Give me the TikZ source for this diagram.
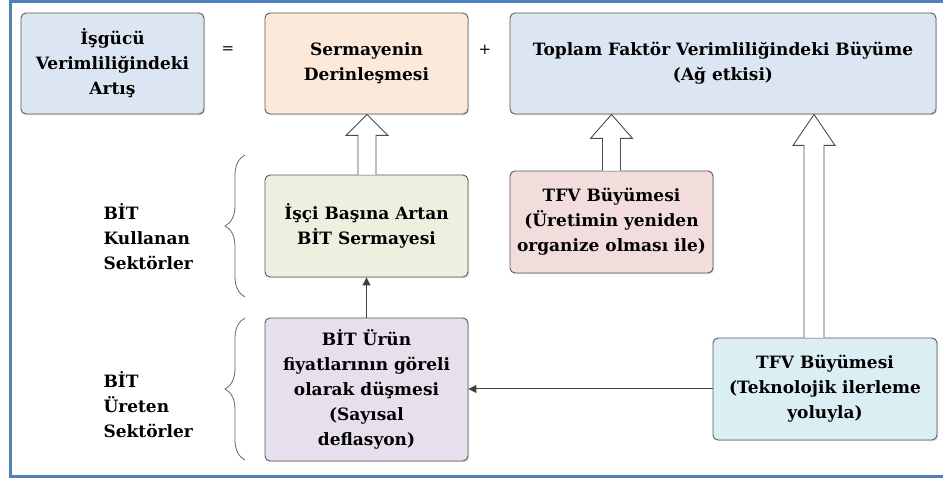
\documentclass[tikz,border=0pt]{standalone}
\usepackage{fontspec}
\setmainfont{DejaVu Serif}
\usetikzlibrary{calc,arrows.meta,decorations.pathreplacing,shadows}
\definecolor{frameblue}{RGB}{79,129,189}
\definecolor{boxblue}{RGB}{220,230,242}
\definecolor{boxpeach}{RGB}{253,233,217}
\definecolor{boxgreen}{RGB}{235,241,222}
\definecolor{boxpink}{RGB}{242,221,220}
\definecolor{boxlilac}{RGB}{229,224,236}
\definecolor{boxcyan}{RGB}{218,238,243}
\tikzset{
  box/.style={draw=black!65, line width=0.9pt, rounded corners=5pt, align=center, inner sep=0pt,
    font=\fontsize{17}{25}\selectfont\bfseries,
    drop shadow={opacity=0.25, shadow xshift=1.2pt, shadow yshift=-1.2pt}},
  sidelbl/.style={anchor=west, align=left, font=\fontsize{17}{25}\selectfont\bfseries},
  opsign/.style={font=\fontsize{15}{15}\selectfont},
  hollow/.style={draw=black!70, fill=white, line width=0.9pt},
  thinarr/.style={draw=black!75, line width=1pt, -{Triangle[length=8pt,width=8pt]}},
  brc/.style={draw=black!60, line width=0.8pt, decorate, decoration={brace, amplitude=20pt}}
}
\newcommand\hollowarrow[5]{%
\draw[hollow] let \p1=(#1.north), \p2=(#2.south) in
 ({(#3-#4)*1pt},\y1) -- ({(#3-#4)*1pt},{\y2-#5pt}) -- ({(#3-21)*1pt},{\y2-#5pt})
 -- ({#3*1pt},\y2) -- ({(#3+21)*1pt},{\y2-#5pt}) -- ({(#3+#4)*1pt},{\y2-#5pt}) -- ({(#3+#4)*1pt},\y1);
}
\begin{document}
\begin{tikzpicture}[x=1pt,y=-1pt]
\useasboundingbox (0,0) rectangle (943,478);
\draw[frameblue, line width=3pt] (945,1.5)--(10,1.5)--(10,476)--(945,476);
\node (isgucu) at (112.5,63.5)[box, fill=boxblue, minimum width=183pt, minimum height=101pt]{İşgücü\\Verimliliğindeki\\Artış};
\node (esit) at (228,50)[opsign]{=};
\node (derin) at (366.5,63.5)[box, fill=boxpeach, minimum width=203pt, minimum height=101pt]{Sermayenin\\Derinleşmesi};
\node (arti) at (485,50)[opsign]{+};
\node (tfv) at (723,63.5)[box, fill=boxblue, minimum width=426pt, minimum height=101pt]{Toplam Faktör Verimliliğindeki Büyüme\\(Ağ etkisi)};
\node (isci) at (366.5,226)[box, fill=boxgreen, minimum width=203pt, minimum height=102pt]{İşçi Başına Artan\\BİT Sermayesi};
\node (uretim) at (611.5,222)[box, fill=boxpink, minimum width=203pt, minimum height=102pt]{TFV Büyümesi\\(Üretimin yeniden\\organize olması ile)};
\node (urun) at (366.5,389.5)[box, fill=boxlilac, minimum width=203pt, minimum height=143pt]{BİT Ürün\\fiyatlarının göreli\\olarak düşmesi\\(Sayısal\\deflasyon)};
\node (tekno) at (825,389)[box, fill=boxcyan, minimum width=224pt, minimum height=102pt]{TFV Büyümesi\\(Teknolojik ilerleme\\yoluyla)};
\node (kullanan) at (100,237)[sidelbl]{BİT\\Kullanan\\Sektörler};
\node (ureten) at (100,405)[sidelbl]{BİT\\Üreten\\Sektörler};
\draw[brc] (245,297)--(245,155);
\draw[brc] (245,460)--(245,318);
\hollowarrow{isci}{derin}{367}{9}{21}
\hollowarrow{uretim}{tfv}{611.5}{9}{24}
\hollowarrow{tekno}{tfv}{814}{10}{31}
\draw[thinarr] (urun.north)--(isci.south);
\draw[thinarr] (tekno.west)--(tekno.west -| urun.east);
\end{tikzpicture}
\end{document}
